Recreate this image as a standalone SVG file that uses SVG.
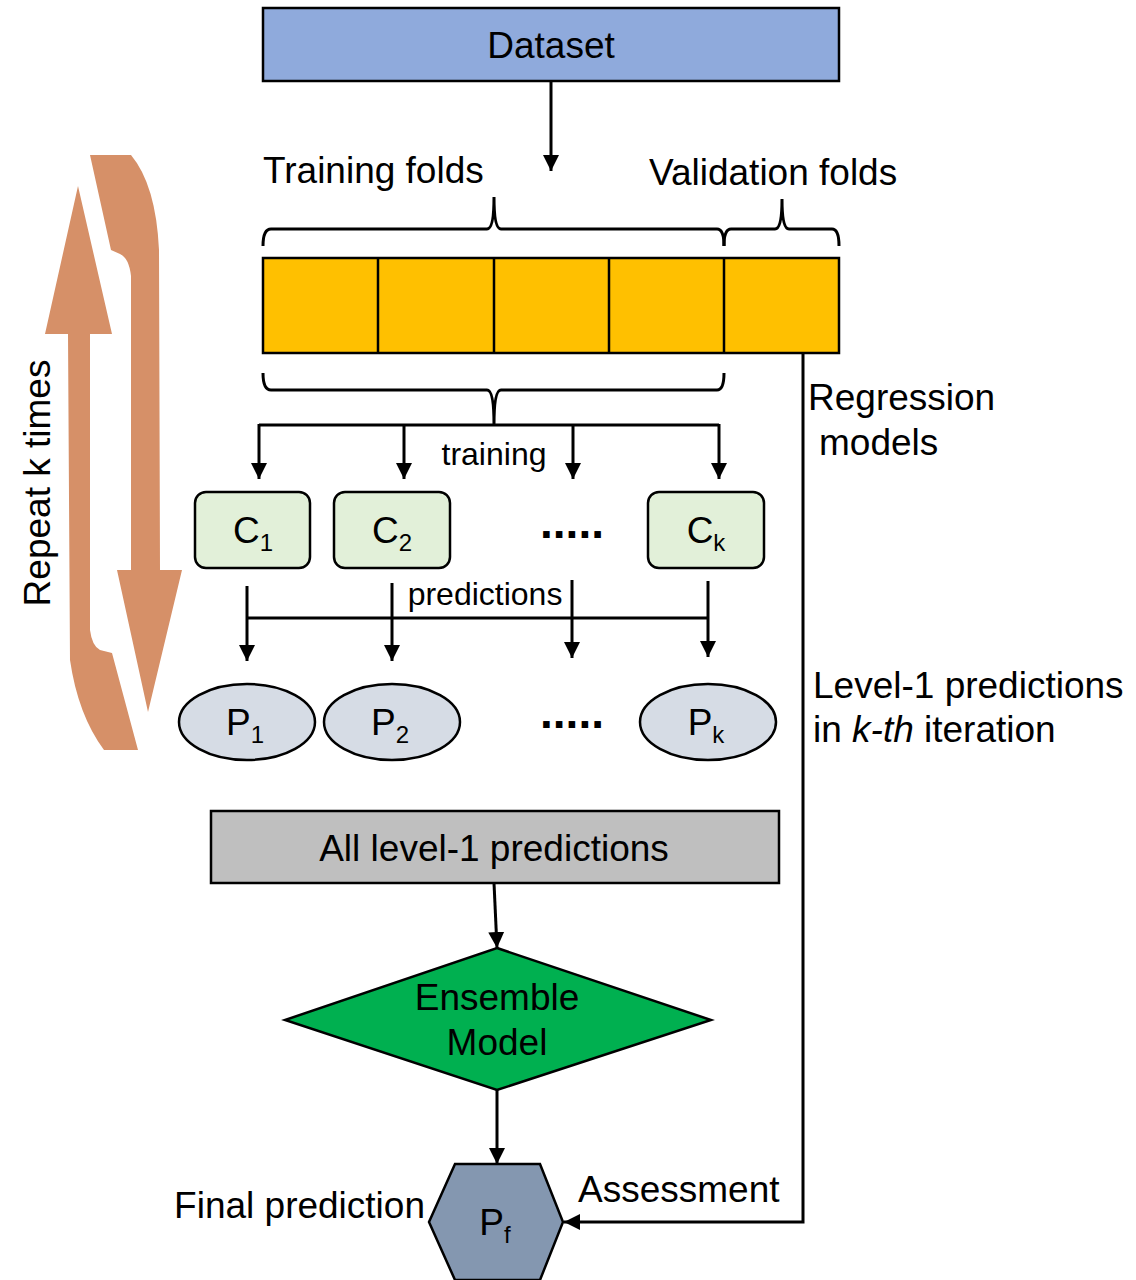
<svg xmlns="http://www.w3.org/2000/svg" width="1136" height="1280" viewBox="0 0 1136 1280">
<defs>
<style>
text{font-family:"Liberation Sans",Arial,sans-serif;fill:#000}
.big{font-size:37px}
.sm{font-size:32px}
.sub{font-size:24px}
.dots{font-size:46px;font-weight:bold}
.ln{fill:none;stroke:#000;stroke-width:3}
.bx{stroke:#000;stroke-width:2.5}
</style>
<marker id="arr" markerUnits="userSpaceOnUse" markerWidth="16" markerHeight="20" refX="16" refY="8" orient="auto" viewBox="0 0 16 16">
<path d="M0,0 L16,8 L0,16 Z" fill="#000"/>
</marker>
</defs>
<rect width="1136" height="1280" fill="#fff"/>

<g id="repeat">
<path d="M78,186 L112,334 L90,334 L90,630 Q92,646 100,650 L112,653 L138,750 L104,750 Q78,715 70,660 L68,334 L45,334 Z" fill="#d69068"/>
<path d="M90,155 L131,155 Q156,185 159,250 L160,570 L182,570 L148,712 L117,570 L131,570 L131,276 Q129,258 120,254 L111,250 Z" fill="#d69068"/>
<text class="big" transform="translate(50,483) rotate(-90)" text-anchor="middle">Repeat k times</text>
</g>

<g id="connectors">
<line class="ln" x1="551" y1="81" x2="551" y2="171" marker-end="url(#arr)"/>
<path class="ln" d="M263,246 Q263,229 271,229 L487,229 Q494,229 494,197 Q494,229 501,229 L717,229 Q724,229 724,246"/>
<path class="ln" d="M724,246 Q724,229 731,229 L775,229 Q782,229 782,199 Q782,229 789,229 L832,229 Q839,229 839,246"/>
<path class="ln" d="M263,373 Q263,390 271,390 L487,390 Q494,390 494,425 Q494,390 501,390 L717,390 Q724,390 724,373"/>
<line class="ln" x1="259" y1="425" x2="719" y2="425"/>
<line class="ln" x1="259" y1="424" x2="259" y2="479" marker-end="url(#arr)"/>
<line class="ln" x1="404" y1="424" x2="404" y2="479" marker-end="url(#arr)"/>
<line class="ln" x1="573" y1="424" x2="573" y2="479" marker-end="url(#arr)"/>
<line class="ln" x1="719" y1="424" x2="719" y2="479" marker-end="url(#arr)"/>
<line class="ln" x1="247" y1="618" x2="708" y2="618"/>
<line class="ln" x1="247" y1="586" x2="247" y2="661" marker-end="url(#arr)"/>
<line class="ln" x1="392" y1="583" x2="392" y2="661" marker-end="url(#arr)"/>
<line class="ln" x1="572" y1="580" x2="572" y2="658" marker-end="url(#arr)"/>
<line class="ln" x1="708" y1="581" x2="708" y2="657" marker-end="url(#arr)"/>
<line class="ln" x1="494" y1="883" x2="497" y2="948" marker-end="url(#arr)"/>
<line class="ln" x1="497" y1="1090" x2="497" y2="1164" marker-end="url(#arr)"/>
<path class="ln" d="M803,353 L803,1222 L564,1222" marker-end="url(#arr)"/>
<text class="sm" x="494" y="465" text-anchor="middle">training</text>
<text class="sm" x="485" y="605" text-anchor="middle">predictions</text>
<text class="big" x="808" y="410">Regression</text>
<text class="big" x="819" y="455">models</text>
<text class="big" x="813" y="698">Level-1 predictions</text>
<text class="big" x="813" y="742">in <tspan font-style="italic">k-th</tspan> iteration</text>
<text class="big" x="578" y="1202">Assessment</text>
<text class="big" x="425" y="1218" text-anchor="end">Final prediction</text>
</g>

<g id="dataset">
<rect class="bx" x="263" y="8" width="576" height="73" fill="#8faadc"/>
<text class="big" x="551" y="58" text-anchor="middle">Dataset</text>
</g>

<g id="labels-folds">
<text class="big" x="263" y="183">Training folds</text>
<text class="big" x="649" y="185">Validation folds</text>
</g>

<g id="folds">
<rect class="bx" x="263" y="258" width="576" height="95" fill="#ffc000"/>
<line class="bx" x1="378" y1="258" x2="378" y2="353"/>
<line class="bx" x1="494" y1="258" x2="494" y2="353"/>
<line class="bx" x1="609" y1="258" x2="609" y2="353"/>
<line class="bx" x1="724" y1="258" x2="724" y2="353"/>
</g>

<g id="c1">
<rect class="bx" x="195" y="492" width="115" height="76" rx="11" fill="#e2f0d9"/>
<text class="big" x="253" y="543" text-anchor="middle">C<tspan class="sub" dy="8">1</tspan></text>
</g>
<g id="c2">
<rect class="bx" x="334" y="492" width="116" height="76" rx="11" fill="#e2f0d9"/>
<text class="big" x="392" y="543" text-anchor="middle">C<tspan class="sub" dy="8">2</tspan></text>
</g>
<g id="cdots">
<text class="dots" x="572" y="538" text-anchor="middle">.....</text>
</g>
<g id="ck">
<rect class="bx" x="648" y="492" width="116" height="76" rx="11" fill="#e2f0d9"/>
<text class="big" x="706" y="543" text-anchor="middle">C<tspan class="sub" dy="8">k</tspan></text>
</g>

<g id="p1">
<ellipse class="bx" cx="247" cy="722" rx="68" ry="38" fill="#d6dce5"/>
<text class="big" x="245" y="735" text-anchor="middle">P<tspan class="sub" dy="8">1</tspan></text>
</g>
<g id="p2">
<ellipse class="bx" cx="392" cy="722" rx="68" ry="38" fill="#d6dce5"/>
<text class="big" x="390" y="735" text-anchor="middle">P<tspan class="sub" dy="8">2</tspan></text>
</g>
<g id="pdots">
<text class="dots" x="572" y="728" text-anchor="middle">.....</text>
</g>
<g id="pk">
<ellipse class="bx" cx="708" cy="722" rx="68" ry="38" fill="#d6dce5"/>
<text class="big" x="706" y="735" text-anchor="middle">P<tspan class="sub" dy="8">k</tspan></text>
</g>

<g id="all-level1">
<rect class="bx" x="211" y="811" width="568" height="72" fill="#bfbfbf"/>
<text class="big" x="494" y="861" text-anchor="middle">All level-1 predictions</text>
</g>

<g id="ensemble">
<polygon class="bx" points="497,948 711,1020 497,1090 285,1020" fill="#00b050"/>
<text class="big" x="497" y="1010" text-anchor="middle">Ensemble</text>
<text class="big" x="497" y="1055" text-anchor="middle">Model</text>
</g>

<g id="final">
<polygon class="bx" points="455,1164 540,1164 563,1222 540,1280 455,1280 429,1222" fill="#8497b0"/>
<text class="big" x="495" y="1235" text-anchor="middle">P<tspan class="sub" dy="8">f</tspan></text>
</g>
</svg>
